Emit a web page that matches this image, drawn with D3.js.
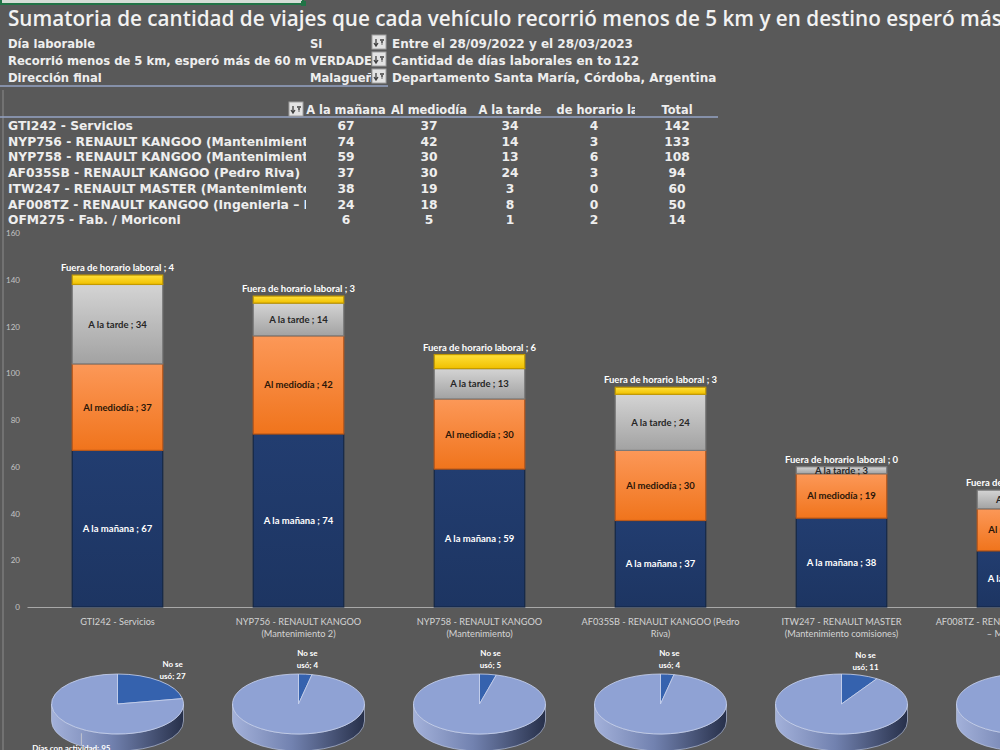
<!DOCTYPE html>
<html>
<head>
<meta charset="utf-8">
<script src="https://cdn.jsdelivr.net/npm/d3@7"></script>
<style>
    body { margin: 0; background: #595959; overflow: hidden; }
    svg { display: block; }
</style>
</head>
<body>
<script>
(function () {
    var width = 1000;
    var height = 750;

    // datos de la tabla dinamica
    var vehiculos = [
        "GTI242 - Servicios",
        "NYP756 - RENAULT KANGOO (Mantenimiento 2)",
        "NYP758 - RENAULT KANGOO (Mantenimiento)",
        "AF035SB - RENAULT KANGOO (Pedro Riva)",
        "ITW247 - RENAULT MASTER (Mantenimiento comisiones)",
        "AF008TZ - RENAULT KANGOO (Ingenieria – Mantenimiento)",
        "OFM275 - Fab. / Moriconi"
    ];
    var etiquetasEje = [
        ["GTI242 - Servicios"],
        ["NYP756 - RENAULT KANGOO", "(Mantenimiento 2)"],
        ["NYP758 - RENAULT KANGOO", "(Mantenimiento)"],
        ["AF035SB - RENAULT KANGOO (Pedro", "Riva)"],
        ["ITW247 - RENAULT MASTER", "(Mantenimiento comisiones)"],
        ["AF008TZ - RENAULT KANGOO (Ingenieria", "– Mantenimiento)"],
        ["OFM275 - Fab. / Moriconi"]
    ];
    var manana = [67, 74, 59, 37, 38, 24, 6];
    var mediodia = [37, 42, 30, 30, 19, 18, 5];
    var tarde = [34, 14, 13, 24, 3, 8, 1];
    var fuera = [4, 3, 6, 3, 0, 0, 2];
    var franjas = ["A la mañana", "Al mediodía", "A la tarde", "Fuera de horario laboral"];
    var yTicks = [0, 20, 40, 60, 80, 100, 120, 140, 160];

    // tortas: dias sin uso sobre el total de dias laborales
    var noSeUso = [27, 4, 5, 4, 11, 9];
    var diasLaborales = 122;

    var filtros = [
        ["Día laborable", "Si", "Entre el 28/09/2022 y el 28/03/2023"],
        ["Recorrió menos de 5 km, esperó más de 60 minutos", "VERDADERO", "Cantidad de días laborales en total:"],
        ["Dirección final", "Malagueño", "Departamento Santa María, Córdoba, Argentina"]
    ];
    var diasTotal = "122";

    var svg = d3.select("body").append("svg")
        .attr("width", width)
        .attr("height", height);

    svg.append("rect")
        .attr("width", width)
        .attr("height", height)
        .attr("fill", "#595959");

    var defs = svg.append("defs");

    function gradV(id, c1, c2) {
        var g = defs.append("linearGradient").attr("id", id)
            .attr("x1", 0).attr("y1", 0).attr("x2", 0).attr("y2", 1);
        g.append("stop").attr("offset", "0%").attr("stop-color", c1);
        g.append("stop").attr("offset", "100%").attr("stop-color", c2);
    }
    gradV("g-manana", "#223d70", "#1d3562");
    gradV("g-mediodia", "#fc9858", "#f0741c");
    gradV("g-tarde", "#d4d4d4", "#a2a2a2");
    gradV("g-fuera", "#ffe03a", "#f0c000");

    var lado = defs.append("linearGradient").attr("id", "g-lado")
        .attr("x1", 0).attr("y1", 0).attr("x2", 1).attr("y2", 0);
    lado.append("stop").attr("offset", "0%").attr("stop-color", "#a3b1da");
    lado.append("stop").attr("offset", "45%").attr("stop-color", "#7282b0");
    lado.append("stop").attr("offset", "100%").attr("stop-color", "#27304a");

    // celda seleccionada de excel arriba
    svg.append("rect")
        .attr("x", 1).attr("y", -10)
        .attr("width", 302).attr("height", 14)
        .attr("fill", "#d6ddd6")
        .attr("stroke", "#217346")
        .attr("stroke-width", 2);
    svg.append("rect")
        .attr("x", 301).attr("y", 1).attr("width", 5).attr("height", 5)
        .attr("fill", "#217346");

    // borde izquierdo de la grilla
    svg.append("line")
        .attr("x1", 3).attr("x2", 3)
        .attr("y1", 90).attr("y2", height)
        .attr("stroke", "#8c8c8c");

    svg.append("text")
        .attr("x", 8).attr("y", 26)
        .attr("fill", "#f2f2f2")
        .style("font", "600 20.7px 'Open Sans'")
        .text("Sumatoria de cantidad de viajes que cada vehículo recorrió menos de 5 km y en destino esperó más de 60 minutos");

    function clip(id, x, w) {
        defs.append("clipPath").attr("id", id)
            .append("rect").attr("x", x).attr("y", 0).attr("width", w).attr("height", 240);
        return "url(#" + id + ")";
    }
    var clipA = clip("c-a", 0, 306);
    var clipB = clip("c-b", 307, 64);
    var clipC = clip("c-c", 388, 223);

    var celdaFiltro = "bold 11.6px 'DejaVu Sans'";
    var celdaDerecha = "bold 12px 'DejaVu Sans'";
    var celdaEncabezado = "bold 11.4px 'DejaVu Sans'";
    var celdaTabla = "bold 12.3px 'DejaVu Sans'";

    function botonFiltro(x, y) {
        var b = svg.append("g").attr("transform", "translate(" + x + "," + y + ")");
        b.append("rect").attr("width", 14).attr("height", 14)
            .attr("fill", "#e3e3e3").attr("stroke", "#a0a0a0");
        b.append("path").attr("d", "M4,4 L4,10 M2,8 L4,11 L6,8 M8,5 H12 M9,7 H11 M9.5,9 H10.5")
            .attr("stroke", "#404040").attr("stroke-width", 1.3).attr("fill", "none");
    }

    filtros.forEach(function (f, i) {
        var yb = 48 + i * 17;
        svg.append("text").attr("x", 8).attr("y", yb)
            .attr("clip-path", clipA)
            .attr("fill", "#eeeeee").style("font", celdaFiltro).text(f[0]);
        svg.append("text").attr("x", 310).attr("y", yb)
            .attr("clip-path", clipB)
            .attr("fill", "#eeeeee").style("font", celdaFiltro).text(f[1]);
        botonFiltro(372, yb - 13);
        svg.append("text").attr("x", 392).attr("y", yb)
            .attr("clip-path", i == 1 ? clipC : null)
            .attr("fill", "#eeeeee").style("font", celdaDerecha).text(f[2]);
    });
    svg.append("text").attr("x", 614).attr("y", 65)
        .attr("fill", "#eeeeee").style("font", celdaDerecha).text(diasTotal);

    svg.append("line").attr("x1", 0).attr("x2", 388).attr("y1", 86).attr("y2", 86)
        .attr("stroke", "#94a3c4").attr("stroke-width", 1.5);
    svg.append("line").attr("x1", 0).attr("x2", 718).attr("y1", 117).attr("y2", 117)
        .attr("stroke", "#94a3c4").attr("stroke-width", 1.5);

    // tabla
    var columnas = [346, 429, 510, 594, 677];
    var anchoCol = [82, 82, 80, 82, 82];
    var valores = [manana, mediodia, tarde, fuera];
    var totales = vehiculos.map(function (v, i) {
        return manana[i] + mediodia[i] + tarde[i] + fuera[i];
    });
    var encabezados = franjas.concat(["Total"]);

    botonFiltro(289, 102);
    encabezados.forEach(function (h, j) {
        var id = clip("c-h" + j, columnas[j] - anchoCol[j] / 2, anchoCol[j]);
        svg.append("text")
            .attr("x", columnas[j]).attr("y", 114)
            .attr("text-anchor", "middle")
            .attr("clip-path", id)
            .attr("fill", "#eeeeee").style("font", celdaEncabezado).text(h);
    });

    vehiculos.forEach(function (v, i) {
        var yb = 130 + i * 15.7;
        svg.append("text").attr("x", 8).attr("y", yb)
            .attr("clip-path", clipA)
            .attr("fill", "#eeeeee").style("font", celdaTabla).text(v);
        valores.concat([totales]).forEach(function (serie, j) {
            svg.append("text")
                .attr("x", columnas[j]).attr("y", yb)
                .attr("text-anchor", "middle")
                .attr("fill", "#eeeeee").style("font", celdaTabla)
                .text(serie[i]);
        });
    });

    // grafico de barras apiladas
    var y = d3.scaleLinear().domain([0, 160]).range([607, 233]);
    var x = d3.scaleBand().domain(vehiculos)
        .range([27, 1294]).paddingInner(0.5).paddingOuter(0.25);

    var yAxis = svg.append("g")
        .attr("transform", "translate(20,0)")
        .call(d3.axisLeft(y).tickValues(yTicks).tickSize(0).tickPadding(0));
    yAxis.select(".domain").remove();
    yAxis.selectAll("text")
        .attr("fill", "#c4c4c4")
        .style("font", "8px Lato");

    var xAxis = svg.append("g")
        .attr("transform", "translate(0," + y(0) + ")")
        .call(d3.axisBottom(x).tickSize(0).tickSizeOuter(0).tickFormat(""));
    xAxis.select(".domain").attr("stroke", "#a8a8a8").attr("stroke-width", 1.2);
    xAxis.selectAll(".tick text").remove();
    xAxis.selectAll(".tick").each(function (d, i) {
        var t = d3.select(this).append("text")
            .attr("text-anchor", "middle")
            .attr("fill", "#d4d4d4")
            .style("font", "9.2px Lato");
        etiquetasEje[i].forEach(function (linea, k) {
            t.append("tspan").attr("x", 0).attr("y", 18 + k * 12).text(linea);
        });
    });

    var filas = vehiculos.map(function (v, i) {
        return { vehiculo: v, manana: manana[i], mediodia: mediodia[i], tarde: tarde[i], fuera: fuera[i] };
    });
    var claves = ["manana", "mediodia", "tarde", "fuera"];
    var rellenos = ["url(#g-manana)", "url(#g-mediodia)", "url(#g-tarde)", "url(#g-fuera)"];
    var bordes = ["#142746", "#b9581a", "#7a7a7a", "#c49a00"];
    var colorTexto = ["#ffffff", "#2a1608", "#262626", "#ffffff"];
    var series = d3.stack().keys(claves)(filas);

    series.forEach(function (s, k) {
        svg.append("g").selectAll("rect")
            .data(s)
            .enter()
            .append("rect")
            .attr("x", function (d) { return x(d.data.vehiculo); })
            .attr("y", function (d) { return y(d[1]); })
            .attr("width", x.bandwidth())
            .attr("height", function (d) { return y(d[0]) - y(d[1]); })
            .attr("fill", rellenos[k])
            .attr("stroke", bordes[k])
            .attr("stroke-width", 1.2);
    });

    series.forEach(function (s, k) {
        svg.append("g").selectAll("text")
            .data(s)
            .enter()
            .append("text")
            .attr("x", function (d) { return x(d.data.vehiculo) + x.bandwidth() / 2; })
            .attr("y", function (d) {
                if (k == 3) {
                    return y(d[1]) - 4;
                }
                return (y(d[0]) + y(d[1])) / 2 + 3.5;
            })
            .attr("text-anchor", "middle")
            .attr("fill", colorTexto[k])
            .style("font", "bold 9.5px Lato")
            .text(function (d) { return franjas[k] + " ; " + (d[1] - d[0]); });
    });

    // tortas 3d
    var rx = 66, ry = 30, prof = 17, cy = 704;
    var pie = d3.pie().sort(null);
    var arc = d3.arc().innerRadius(0).outerRadius(rx);

    noSeUso.forEach(function (n, i) {
        var cx = x(vehiculos[i]) + x.bandwidth() / 2;
        var g = svg.append("g").attr("transform", "translate(" + cx + "," + cy + ")");

        g.append("path")
            .attr("d", "M" + (-rx) + ",0 A" + rx + "," + ry + " 0 0 0 " + rx + ",0 L" + rx + "," + prof +
                " A" + rx + "," + ry + " 0 0 1 " + (-rx) + "," + prof + " Z")
            .attr("fill", "url(#g-lado)")
            .attr("stroke", "#c5cfe8")
            .attr("stroke-width", 0.6);

        var arcos = pie([n, diasLaborales - n]);
        g.append("g")
            .attr("transform", "scale(1," + (ry / rx) + ")")
            .selectAll("path")
            .data(arcos)
            .enter()
            .append("path")
            .attr("d", arc)
            .attr("fill", function (d, j) { return j == 0 ? "#3562ae" : "#8fa2d4"; })
            .attr("stroke", "#c9d3ef")
            .attr("stroke-width", 0.8)
            .attr("vector-effect", "non-scaling-stroke");

        var a = (arcos[0].startAngle + arcos[0].endAngle) / 2;
        var lx = Math.sin(a) * (rx + 20);
        var ly = -Math.cos(a) * (ry + 16);
        var t = g.append("text")
            .attr("text-anchor", "middle")
            .attr("fill", "#ffffff")
            .style("font", "bold 8px Lato");
        t.append("tspan").attr("x", lx).attr("y", ly - 2).text("No se");
        t.append("tspan").attr("x", lx).attr("y", ly + 10).text("usó; " + n);

        if (i == 0) {
            var b = (arcos[1].startAngle + arcos[1].endAngle) / 2;
            var bx = Math.sin(b) * (rx + 6);
            var by = -Math.cos(b) * (ry + 16);
            g.append("line")
                .attr("x1", bx + 10).attr("x2", bx + 10)
                .attr("y1", by - 6).attr("y2", by + 6)
                .attr("stroke", "#d0d0d0").attr("stroke-width", 0.8);
            g.append("text")
                .attr("x", bx).attr("y", by + 12)
                .attr("text-anchor", "middle")
                .attr("fill", "#ffffff")
                .style("font", "bold 8px Lato")
                .text("Días con actividad; " + (diasLaborales - n));
        }
    });
})();
</script>
</body>
</html>
